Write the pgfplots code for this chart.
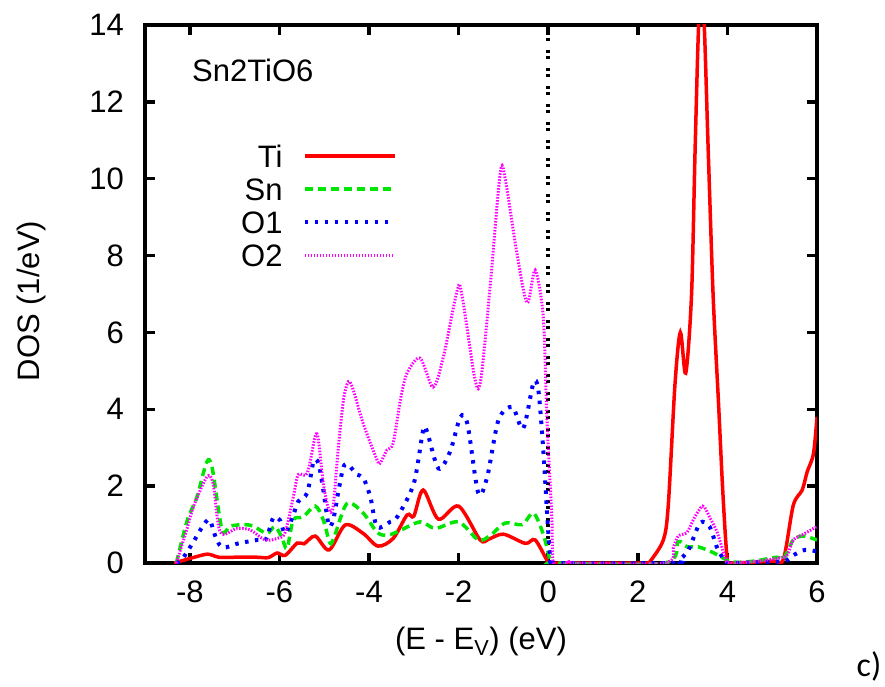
\documentclass[border=0pt]{standalone}
\usepackage{fontspec}
\setmainfont{Liberation Sans}
\newfontfamily\cfont{Carlito}
\usepackage{pgfplots}
\pgfplotsset{compat=1.18}
\definecolor{tired}{RGB}{255,0,0}
\definecolor{sngreen}{RGB}{0,230,0}
\definecolor{oneblue}{RGB}{0,0,255}
\definecolor{twomag}{RGB}{255,0,255}
\newcommand{\bigfont}{\fontsize{31}{36}\selectfont}
\begin{document}
\begin{tikzpicture}
\useasboundingbox (-145pt,-123pt) rectangle (740pt,563pt);
\begin{axis}[
 at={(0pt,0pt)}, anchor=south west,
 scale only axis, width=672pt, height=538pt,
 xmin=-9, xmax=6, ymin=0, ymax=14,
 xtick={-8,-6,-4,-2,0,2,4,6}, ytick={0,2,4,6,8,10,12,14},
 tick align=inside, major tick length=10pt,
 axis line style={line width=3.5pt},
 tick style={line width=3.5pt, black},
 /pgf/number format/assume math mode=true,
 tick label style={font=\bigfont, inner sep=0pt},
 yticklabel style={xshift=-21pt},
 xticklabel style={yshift=-18pt},
 legend plot pos=right,
 legend cell align=right,
 legend style={at={(axis cs:-3.38,10.88)}, anchor=north east, draw=none, fill=none, inner sep=0pt, font=\bigfont, /tikz/row sep=11pt, /tikz/column sep=20pt, nodes={inner sep=0pt, text height=22pt, text depth=0pt}},
 legend image code/.code={\draw[#1] (0pt,0pt) -- (90pt,0pt);},
]
\addplot[black, line width=4pt, dash pattern=on 3pt off 3pt on 3pt off 9pt, forget plot] coordinates {(0,0) (0,14)};
\addplot[tired, line width=3.5pt, smooth, tension=0.5] coordinates {
(-8.35,0) (-8.2,0.05) (-7.9,0.15) (-7.6,0.23) (-7.35,0.15) (-7,0.15) (-6.5,0.15) (-6.25,0.14) (-6.05,0.26) (-5.87,0.2) (-5.6,0.52) (-5.45,0.5) (-5.2,0.7) (-4.89,0.34) (-4.53,0.99) (-4.13,0.77) (-3.8,0.44) (-3.46,0.64) (-3.15,1.25) (-3.0,1.22) (-2.79,1.9) (-2.45,1.14) (-2.0,1.48) (-1.52,0.6) (-1.33,0.62) (-1.0,0.75) (-0.51,0.51) (-0.29,0.6) (0,0.02) (0.1,0) (2.2,0) (2.28,0.05) (2.57,0.6) (2.68,1.5) (2.83,4.65) (2.95,6.0) (3.07,4.94) (3.2,7.0) (3.28,10.8) (3.37,14.3) (3.47,14.3) (3.57,10.8) (3.68,7.0) (3.8,4.2) (3.9,1.8) (4.0,0.05) (4.1,0) (5.0,0.05) (5.25,0.1) (5.47,1.5) (5.67,1.9) (5.78,2.37) (5.92,2.84) (6.0,3.8)
};
\addlegendentry{Ti}
\addplot[sngreen, line width=3.5pt, dash pattern=on 8pt off 5pt, smooth, tension=0.5] coordinates {
(-8.3,0) (-8.06,1.1) (-7.84,1.72) (-7.62,2.63) (-7.5,2.47) (-7.28,0.86) (-7.1,0.96) (-6.8,1.0) (-6.58,0.96) (-6.28,0.77) (-6.1,0.95) (-5.95,0.68) (-5.83,0.38) (-5.69,1.12) (-5.47,1.2) (-5.2,1.48) (-5.02,1.12) (-4.87,0.52) (-4.77,0.7) (-4.49,1.55) (-4.13,1.3) (-3.82,0.8) (-3.6,0.72) (-3.37,0.81) (-2.86,1.07) (-2.52,0.9) (-2.0,1.07) (-1.56,0.6) (-1.29,0.72) (-0.96,1.04) (-0.58,1.0) (-0.33,1.3) (-0.11,0.75) (0.05,0.05) (0.15,0) (2.6,0) (2.9,0.55) (3.1,0.42) (3.35,0.42) (3.7,0.26) (4.1,0.03) (4.6,0.05) (5.1,0.15) (5.25,0.1) (5.47,0.6) (5.7,0.7) (6.0,0.6)
};
\addlegendentry{Sn}
\addplot[oneblue, line width=4pt, dash pattern=on 3.5pt off 6.5pt, smooth, tension=0.5] coordinates {
(-8.3,0) (-8.17,0.1) (-7.92,0.55) (-7.72,0.94) (-7.56,1.12) (-7.4,0.6) (-7.25,0.4) (-6.95,0.5) (-6.5,0.6) (-6.3,0.62) (-6.14,1.17) (-5.99,1.12) (-5.87,0.77) (-5.69,1.25) (-5.58,1.6) (-5.38,1.82) (-5.24,2.63) (-5.13,2.6) (-5.02,1.9) (-4.9,0.99) (-4.8,1.12) (-4.69,1.82) (-4.57,2.5) (-4.46,2.55) (-4.27,2.3) (-4.13,2.22) (-3.97,1.72) (-3.82,0.94) (-3.53,1.07) (-3.37,1.2) (-3.0,2.07) (-2.79,3.46) (-2.7,3.4) (-2.45,2.46) (-2.19,2.9) (-1.96,3.8) (-1.8,3.6) (-1.56,1.82) (-1.36,2.25) (-1.11,3.72) (-0.8,4.06) (-0.56,3.5) (-0.33,4.68) (-0.22,4.5) (-0.11,2.94) (-0.02,1.2) (0.05,0.1) (0.15,0) (2.8,0) (2.9,0.05) (3.13,0.34) (3.39,1.04) (3.6,0.95) (3.77,0.4) (3.95,0.05) (4.1,0) (5.0,0.03) (5.3,0.05) (5.47,0.2) (5.73,0.34) (6,0.3)
};
\addlegendentry{O1}
\addplot[twomag, line width=3pt, dash pattern=on 1.5pt off 1.5pt, smooth, tension=0.5] coordinates {
(-8.3,0) (-8.06,0.9) (-7.92,1.46) (-7.62,2.24) (-7.48,2.07) (-7.32,0.8) (-6.95,0.9) (-6.65,0.86) (-6.32,0.6) (-6.05,0.64) (-5.87,0.8) (-5.69,1.72) (-5.58,2.3) (-5.38,2.33) (-5.2,3.3) (-5.13,3.2) (-5.02,2.07) (-4.9,1.4) (-4.8,1.46) (-4.69,2.94) (-4.57,4.24) (-4.46,4.72) (-4.35,4.5) (-4.13,3.63) (-3.82,2.68) (-3.75,2.6) (-3.6,2.94) (-3.46,3.12) (-3.3,4.24) (-3.15,4.94) (-2.86,5.33) (-2.57,4.58) (-2.34,5.36) (-2.03,7.1) (-1.93,7.0) (-1.63,4.76) (-1.5,4.8) (-1.29,7.28) (-1.07,10.15) (-0.96,10.0) (-0.7,8.07) (-0.47,6.77) (-0.29,7.62) (-0.11,6.4) (-0.03,3.8) (0.08,1.2) (0.12,0) (0.4,0) (0.5,0.05) (0.6,0) (2.6,0) (2.8,0.43) (2.9,0.7) (3.1,0.8) (3.25,1.15) (3.45,1.48) (3.6,1.2) (3.77,0.8) (3.95,0.15) (4.05,0) (4.7,0.05) (5.1,0.12) (5.33,0.2) (5.47,0.6) (5.7,0.75) (6,0.95)
};
\addlegendentry{O2}
\end{axis}
\node[font=\bigfont, anchor=west, inner sep=0pt] at (47pt,493pt) {Sn2TiO6};
\node[font=\bigfont, rotate=90] at (-114pt,262pt) {DOS (1/eV)};
\node[font=\bigfont] at (336pt,-78pt) {(E - E\textsubscript{V}) (eV)};
\node[font={\cfont\fontsize{34}{40}\selectfont}] at (724pt,-103pt) {c)};
\end{tikzpicture}
\end{document}
